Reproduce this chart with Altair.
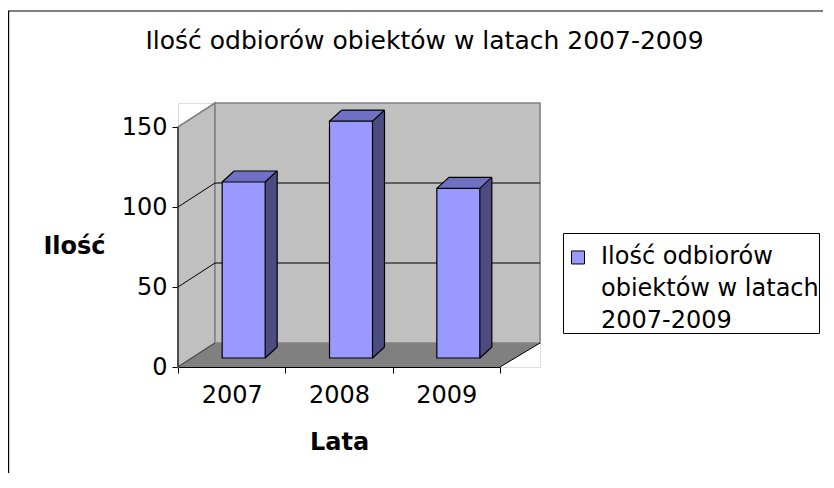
import altair as alt
import pandas as pd

# ---- data ----
years = ["2007", "2008", "2009"]
counts = [110, 148, 106]
legend_lines = ["Ilość odbiorów", "obiektów w latach", "2007-2009"]
chart_title = "Ilość odbiorów obiektów w latach 2007-2009"
y_ticks = [0, 50, 100, 150]
grid_values = [50, 100]

series_name = "\n".join(legend_lines)
df = pd.DataFrame({"year": years, "count": counts, "series": [series_name] * len(years)})
grid_df = pd.DataFrame({"v": grid_values})

# ---- style ----
FONT = "DejaVu Sans"
FRONT = "#9999FF"
TOP = "#7070C4"
SIDE = "#4C4C80"
WALL = "#C0C0C0"
FLOOR = "#808080"

W, H = 362, 264
BAR_W = 43
SHIFT = 12          # bars sit deeper than the front axis
DEPTH_X, DEPTH_Y = 12, 11   # bar extrusion
N_STEPS = 12

xs = alt.Scale(domain=years, range=[0, 322], paddingInner=0, paddingOuter=0)
ys = alt.Scale(domain=[0, 150], range=[255, 15], nice=False)

one = alt.Data(values=[{"a": 1}])

# walls
back_wall = alt.Chart(one).mark_rect(fill=WALL, stroke=FLOOR, strokeWidth=1.5).encode(
    x=alt.value(37), x2=alt.value(362), y=alt.value(0), y2=alt.value(240))

left_wall = alt.Chart(alt.Data(values=[{"px": 0, "t": 24, "b": 264}, {"px": 37, "t": 0, "b": 240}])).mark_area(
    orient="vertical", fill=WALL, stroke=FLOOR, strokeWidth=1.5).encode(
    x=alt.X("px:Q", scale=None, axis=None), y=alt.Y("t:Q", scale=None, axis=None), y2="b:Q")

floor = alt.Chart(alt.Data(values=[{"py": 240, "l": 37, "r": 362}, {"py": 264, "l": 0, "r": 322}])).mark_area(
    orient="horizontal", fill=FLOOR).encode(
    y=alt.Y("py:Q", scale=None, axis=None), x=alt.X("l:Q", scale=None, axis=None), x2="r:Q")

floor_left = alt.Chart(one).mark_rule(color="#404040", strokeWidth=1).encode(
    x=alt.value(0), x2=alt.value(37), y=alt.value(264), y2=alt.value(240))
floor_right = alt.Chart(one).mark_rule(color="black", strokeWidth=1).encode(
    x=alt.value(322), x2=alt.value(362), y=alt.value(264), y2=alt.value(240))
front_edge = alt.Chart(one).mark_rule(color="black", strokeWidth=1).encode(
    x=alt.value(0), y=alt.value(24), y2=alt.value(264))

grid = alt.Chart(grid_df).mark_rule(color="black", strokeWidth=1, yOffset=-15).encode(
    y=alt.Y("v:Q", scale=ys, axis=None), x=alt.value(37), x2=alt.value(362))
grid_diag = alt.Chart(grid_df).mark_rule(color="black", strokeWidth=1, yOffset=9, y2Offset=-15).encode(
    y=alt.Y("v:Q", scale=ys, axis=None), y2="v:Q", x=alt.value(0), x2=alt.value(37))

base = alt.Chart(df)
X = alt.X("year:N", scale=xs, axis=None)
Y = alt.Y("count:Q", scale=ys, axis=None)
Y0 = alt.YDatum(0, scale=ys, axis=None)

layers = [left_wall, back_wall, floor, floor_left, floor_right, grid, grid_diag]

# bar depth (side face) by extrusion
for k in range(1, N_STEPS + 1):
    dx = SHIFT + DEPTH_X * k / N_STEPS
    dy = -DEPTH_Y * k / N_STEPS
    layers.append(base.mark_bar(width=BAR_W, xOffset=dx, yOffset=dy, y2Offset=dy, fill=SIDE).encode(
        x=X, y=Y, y2=alt.datum(0)))
# top face
for k in range(1, N_STEPS + 1):
    dx = SHIFT + DEPTH_X * k / N_STEPS
    dy = -DEPTH_Y * k / N_STEPS
    layers.append(base.mark_bar(width=BAR_W, xOffset=dx, yOffset=dy, y2Offset=dy + 1.4, fill=TOP).encode(
        x=X, y=Y, y2="count:Q"))

# bar edges
x0 = SHIFT - BAR_W / 2
x1 = SHIFT + BAR_W / 2
edge = dict(color="black", strokeWidth=1.2)
layers.append(base.mark_rule(xOffset=x0, x2Offset=x0 + DEPTH_X, yOffset=0, y2Offset=-DEPTH_Y, **edge).encode(
    x=X, x2="year:N", y=Y, y2="count:Q"))
layers.append(base.mark_rule(xOffset=x1, x2Offset=x1 + DEPTH_X, yOffset=0, y2Offset=-DEPTH_Y, **edge).encode(
    x=X, x2="year:N", y=Y, y2="count:Q"))
layers.append(base.mark_rule(xOffset=x0 + DEPTH_X, x2Offset=x1 + DEPTH_X, yOffset=-DEPTH_Y, y2Offset=-DEPTH_Y, **edge).encode(
    x=X, x2="year:N", y=Y, y2="count:Q"))
layers.append(base.mark_rule(xOffset=x1 + DEPTH_X, x2Offset=x1 + DEPTH_X, yOffset=-DEPTH_Y, y2Offset=-DEPTH_Y, **edge).encode(
    x=X, x2="year:N", y=Y, y2=alt.datum(0)))
layers.append(base.mark_rule(xOffset=x1, x2Offset=x1 + DEPTH_X, yOffset=0, y2Offset=-DEPTH_Y, **edge).encode(
    x=X, x2="year:N", y=Y0, y2=alt.datum(0)))

# front face with axes + legend
front = base.mark_bar(width=BAR_W, xOffset=SHIFT, stroke="black", strokeWidth=1.2).encode(
    x=alt.X("year:N", scale=xs, axis=alt.Axis(
        orient="bottom", title="Lata", labelAngle=0, labelFont=FONT, labelFontSize=24, labelColor="black",
        titleFont=FONT, titleFontSize=24, titleFontWeight="bold", titleColor="black",
        tickBand="extent", tickSize=6, tickColor="black", domainColor="black", domainWidth=1,
        labelPadding=10, titleY=63, titleBaseline="top", grid=False)),
    y=alt.Y("count:Q", scale=ys, axis=alt.Axis(
        orient="left", title="Ilość", values=y_ticks, tickOffset=9, domain=False, grid=False,
        tickSize=6, tickColor="black", labelPadding=5,
        labelFont=FONT, labelFontSize=24, labelColor="black",
        titleFont=FONT, titleFontSize=24, titleFontWeight="bold", titleColor="black",
        titleAngle=0, titleX=-104, titleY=143, titleAlign="center", titleBaseline="middle")),
    y2=alt.datum(0),
    color=alt.Color("series:N", scale=alt.Scale(domain=[series_name], range=[FRONT]), legend=alt.Legend(
        title=None, orient="none", legendX=385, legendY=130, fillColor="white", strokeColor="black",
        padding=0, symbolType="M-1,0.92H1V2.92H-1Z", symbolSize=169, symbolOffset=3,
        symbolStrokeColor="black", symbolStrokeWidth=1,
        labelFont=FONT, labelFontSize=24, labelColor="black", labelLimit=400, labelOffset=11,
        labelBaseline="top", labelExpr="split(datum.label, '\\n')")),
)
layers.append(front)
layers.append(front_edge)

title_text = alt.Chart(one).mark_text(text=chart_title, font=FONT, fontSize=25, baseline="alphabetic",
                                      align="center", color="black").encode(
    x=alt.value(246.5), y=alt.value(-54))
border_top = alt.Chart(one).mark_rule(color="black", strokeWidth=1.2).encode(
    x=alt.value(-170), x2=alt.value(700), y=alt.value(-92))
border_left = alt.Chart(one).mark_rule(color="black", strokeWidth=1.2).encode(
    x=alt.value(-169.4), y=alt.value(-92), y2=alt.value(400))
layers += [title_text, border_top, border_left]

chart = alt.layer(*layers).resolve_axis(x="independent", y="independent").properties(
    width=W, height=H,
    autosize=alt.AutoSizeParams(type="none"),
    padding={"left": 170, "top": 95, "right": 283, "bottom": 106},
    background="white",
).configure_view(stroke=None).configure(style={"guide-label": {"lineHeight": 32}})

chart.save("out.html", embed_options={"renderer": "svg", "actions": False})
